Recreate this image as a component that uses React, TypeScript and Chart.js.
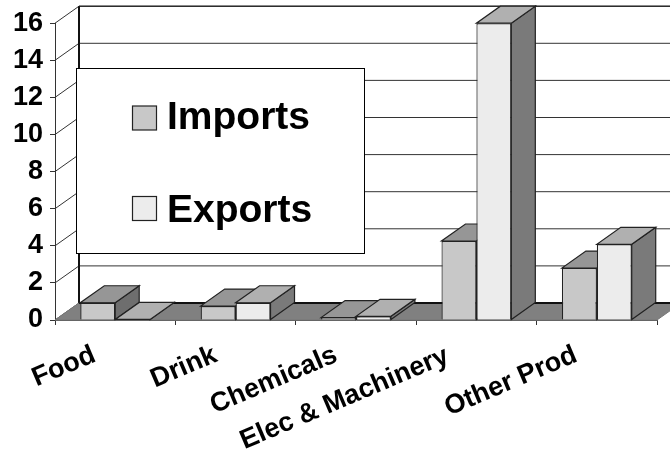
import React, { useEffect, useRef } from "react";
import { Chart, registerables } from "chart.js";

Chart.register(...registerables);

const categories = ["Food", "Drink", "Chemicals", "Elec & Machinery", "Other Prod"];
const imports = [0.93, 0.75, 0.13, 4.26, 2.8];
const exportsData = [0.03, 0.93, 0.2, 16, 4.08];
const FONT = '"Liberation Sans", Arial, sans-serif';
const DX = 24;
const DY = 17;

const shades = [
  { front: "#c8c8c8", top: "#969696", side: "#6e6e6e" },
  { front: "#ececec", top: "#b0b0b0", side: "#7a7a7a" },
];
// small per-label placement adjustments of the rotated category labels
const labelNudgeX = [-1, 0, 0, -9, -1];
const labelNudgeY = [0, 0, 0, 1, 0];

const poly = (c: CanvasRenderingContext2D, pts: number[][], fill?: string) => {
  c.beginPath();
  pts.forEach((p, i) => (i ? c.lineTo(p[0], p[1]) : c.moveTo(p[0], p[1])));
  c.closePath();
  if (fill) {
    c.fillStyle = fill;
    c.fill();
  }
  c.stroke();
};

const nudgePlugin = {
  id: "labelNudge",
  beforeDraw(chart: any) {
    const s = chart.scales.x;
    const items = s.getLabelItems(chart.chartArea);
    items.forEach((it: any, i: number) => {
      if (it.__nudged) return;
      it.__nudged = true;
      const tr = it.options.translation;
      it.options.translation = [tr[0] + labelNudgeX[i], tr[1] + labelNudgeY[i]];
    });
  },
};

const wallsPlugin = {
  id: "walls",
  beforeDatasetsDraw(chart: any) {
    const c: CanvasRenderingContext2D = chart.ctx;
    const { left, right, top, bottom } = chart.chartArea;
    const y = chart.scales.y;
    c.save();
    c.strokeStyle = "#333";
    c.lineWidth = 1;
    y.ticks.forEach((t: any) => {
      const py = y.getPixelForValue(t.value);
      c.beginPath();
      c.moveTo(left, py);
      c.lineTo(left + DX, py - DY);
      c.lineTo(right + DX, py - DY);
      c.stroke();
    });
    c.strokeStyle = "#111";
    c.lineWidth = 2;
    c.beginPath();
    c.moveTo(left + DX, top - DY);
    c.lineTo(left + DX, bottom - DY);
    c.stroke();
    c.lineWidth = 1;
    c.beginPath();
    c.moveTo(left + DX, top - DY);
    c.lineTo(right + DX, top - DY);
    c.stroke();
    // floor
    c.strokeStyle = "#777";
    poly(c, [[left, bottom], [left + DX, bottom - DY], [right + DX, bottom - DY], [right, bottom]], "#808080");
    c.strokeStyle = "#111";
    c.lineWidth = 2;
    c.beginPath();
    c.moveTo(left + DX, bottom - DY);
    c.lineTo(right + DX, bottom - DY);
    c.stroke();
    // depth faces of bars
    c.lineWidth = 1.2;
    c.strokeStyle = "#222";
    [0, 1].forEach((d) => {
      chart.getDatasetMeta(d).data.forEach((b: any) => {
        const l = b.x - b.width / 2;
        const r = b.x + b.width / 2;
        const t = b.y;
        const bt = b.base;
        poly(c, [[r, bt], [r, t], [r + DX, t - DY], [r + DX, bt - DY]], shades[d].side);
        poly(c, [[l, t], [r, t], [r + DX, t - DY], [l + DX, t - DY]], shades[d].top);
      });
    });
    c.restore();
  },
};

const legendPlugin = {
  id: "boxLegend",
  afterDraw(chart: any) {
    const c: CanvasRenderingContext2D = chart.ctx;
    c.save();
    c.fillStyle = "#fff";
    c.strokeStyle = "#000";
    c.lineWidth = 1;
    c.fillRect(76.5, 68.5, 288, 185);
    c.strokeRect(76.5, 68.5, 288, 185);
    chart.data.datasets.forEach((ds: any, i: number) => {
      const swatchTop = i === 0 ? 106 : 196.5;
      const baseline = i === 0 ? 129 : 222;
      c.fillStyle = ds.backgroundColor;
      c.strokeStyle = "#222";
      c.lineWidth = 1.2;
      c.fillRect(132.5, swatchTop, 24, 24);
      c.strokeRect(132.5, swatchTop, 24, 24);
      c.fillStyle = "#000";
      c.font = `bold 39px ${FONT}`;
      c.textAlign = "left";
      c.textBaseline = "alphabetic";
      c.fillText(ds.label, 167, baseline);
    });
    c.restore();
  },
};

export default function App() {
  const ref = useRef<HTMLCanvasElement>(null);
  useEffect(() => {
    const chart = new Chart(ref.current!, {
      type: "bar",
      data: {
        labels: categories,
        datasets: [
          { label: "Imports", data: imports, backgroundColor: shades[0].front, borderColor: "#222", borderWidth: 1.2 },
          { label: "Exports", data: exportsData, backgroundColor: shades[1].front, borderColor: "#222", borderWidth: 1.2 },
        ],
      },
      options: {
        animation: false,
        responsive: false,
        layout: { padding: { top: 22, right: 13, left: 0, bottom: 0 } },
        datasets: { bar: { categoryPercentage: 0.58, barPercentage: 1 } },
        plugins: { legend: { display: false }, tooltip: { enabled: false } },
        scales: {
          x: {
            grid: { drawOnChartArea: false, color: "#333", tickLength: 5, offset: true },
            border: { color: "#555" },
            ticks: {
              color: "#000",
              font: { family: FONT, weight: "bold", size: 27 },
              minRotation: 23,
              maxRotation: 23,
              autoSkip: false,
              labelOffset: -20,
              padding: 14,
            },
            afterFit: (s: any) => {
              s.height = 142;
            },
          },
          y: {
            min: 0,
            max: 16,
            grid: { drawOnChartArea: false, color: "#333", tickLength: 5 },
            border: { color: "#333" },
            ticks: {
              stepSize: 2,
              color: "#000",
              font: { family: FONT, weight: "bold", size: 27 },
              padding: 7,
            },
            afterFit: (s: any) => {
              s.width = 55;
            },
          },
        },
      },
      plugins: [nudgePlugin, wallsPlugin, legendPlugin],
    } as any);
    return () => chart.destroy();
  }, []);
  return (
    <div style={{ position: "absolute", left: 0, top: 0, width: 670, height: 462, overflow: "hidden", background: "#fff" }}>
      <canvas ref={ref} width={670} height={462} style={{ display: "block" }} />
    </div>
  );
}
